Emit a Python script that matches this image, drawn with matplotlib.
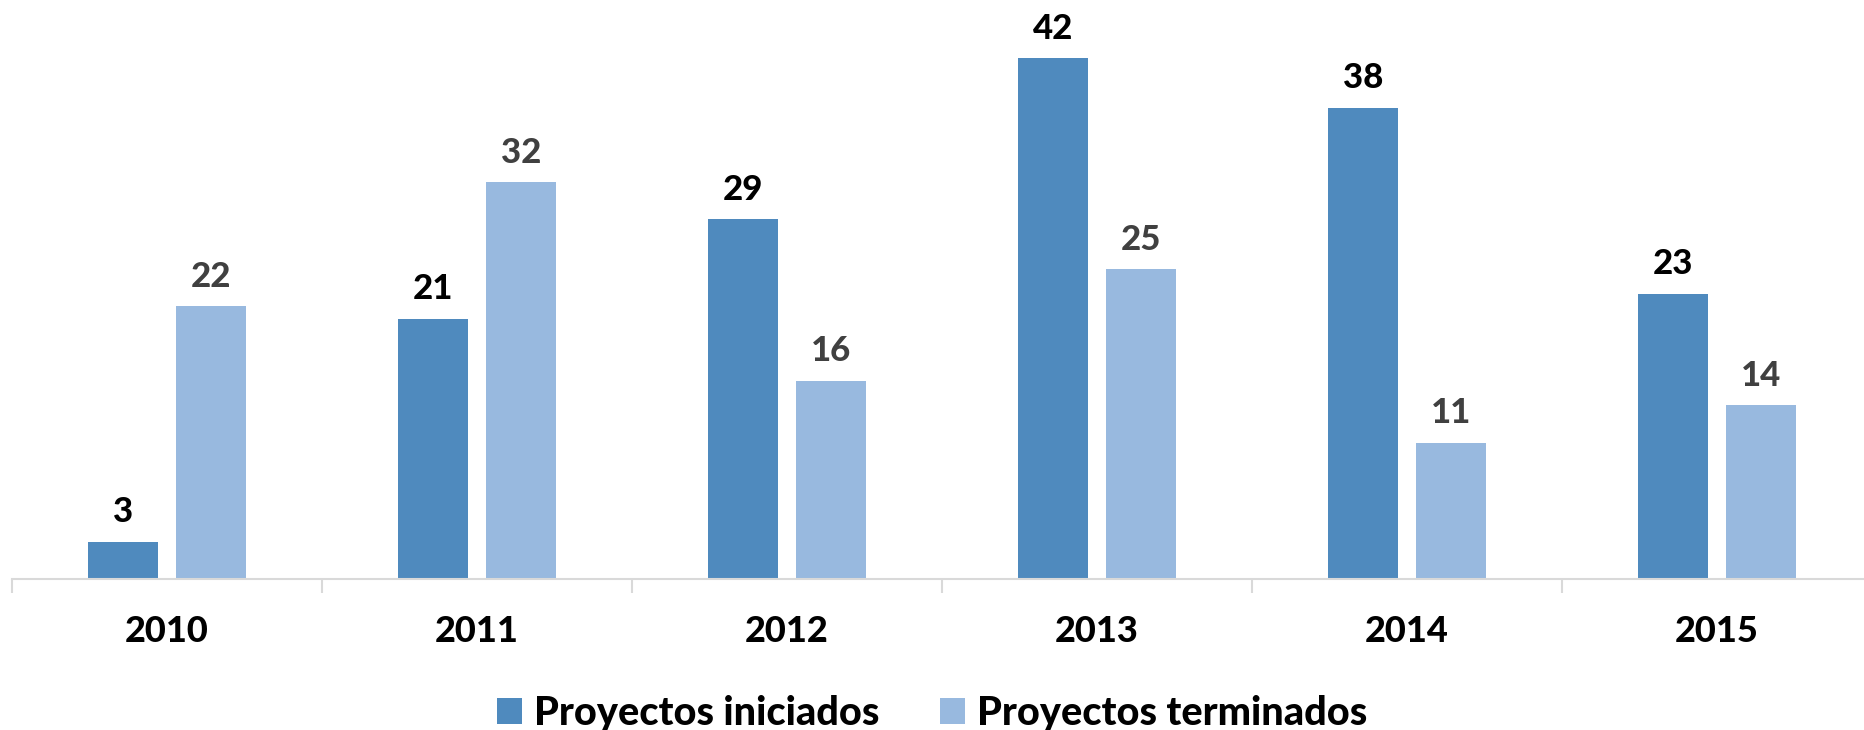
import matplotlib
matplotlib.use("Agg")
import matplotlib.pyplot as plt
import numpy as np

years = ["2010", "2011", "2012", "2013", "2014", "2015"]
iniciados = [3, 21, 29, 42, 38, 23]
terminados = [22, 32, 16, 25, 11, 14]
series_names = ["Proyectos iniciados", "Proyectos terminados"]

plt.rcParams['font.family'] = ['Lato', 'DejaVu Sans']

W, H = 1864, 730
fig = plt.figure(figsize=(W / 100, H / 100), dpi=100)
ax = fig.add_axes([12 / W, 1 - 579 / H, 1860 / W, (579 - 21) / H])

x = np.arange(len(years))
bw = 0.223
off = 0.142
c1, c2 = "#4F8ABE", "#98B9DF"
b1 = ax.bar(x - off, iniciados, bw, color=c1, label=series_names[0])
b2 = ax.bar(x + off, terminados, bw, color=c2, label=series_names[1])

for rect, v in zip(b1, iniciados):
    ax.annotate(str(v), (rect.get_x() + rect.get_width() / 2, v), xytext=(0, 14),
                textcoords="offset points", ha="center", va="baseline",
                fontsize=25, fontweight=900, color="black")
for rect, v in zip(b2, terminados):
    ax.annotate(str(v), (rect.get_x() + rect.get_width() / 2, v), xytext=(0, 14),
                textcoords="offset points", ha="center", va="baseline",
                fontsize=25, fontweight=900, color="#404040")

ax.set_xlim(-0.5, len(years) - 0.5)
ax.set_ylim(0, 45)
ax.set_yticks([])
for s in ["top", "right", "left"]:
    ax.spines[s].set_visible(False)
ax.spines["bottom"].set_color("#D9D9D9")
ax.spines["bottom"].set_linewidth(1.5)

ax.set_xticks(x)
ax.set_xticklabels(years, fontsize=26, fontweight=900)
ax.tick_params(axis="x", which="major", length=0, pad=26)
ax.set_xticks(np.arange(-0.5, len(years) + 0.5, 1), minor=True)
ax.tick_params(axis="x", which="minor", length=10, color="#D9D9D9", width=1.5)

fig.legend(handles=[b1, b2], labels=series_names, loc="center",
           bbox_to_anchor=(0.5, 1 - 713 / H), ncol=2, frameon=False,
           prop={"family": ["Lato", "DejaVu Sans"], "weight": 900, "size": 28.5},
           handlelength=0.63, handleheight=0.63, handletextpad=0.3,
           columnspacing=1.55)

fig.savefig("out.png", dpi=100, facecolor="white")
